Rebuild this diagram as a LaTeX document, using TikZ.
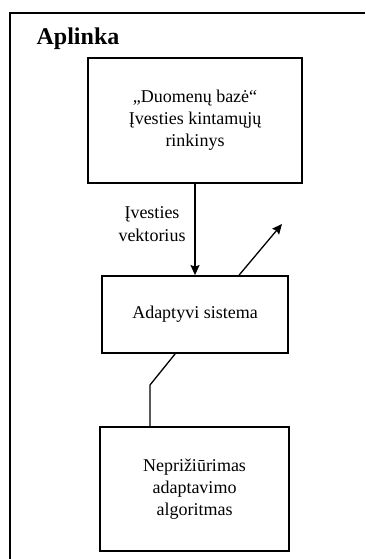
\documentclass[tikz,border=0pt]{standalone}
\usepackage{fontspec}
\setmainfont{Liberation Serif}
\usepackage{tikz}
\usetikzlibrary{arrows.meta}

\begin{document}
\begin{tikzpicture}[x=1pt,y=-1pt,
		blok/.style={draw,line width=1.8pt,align=center,inner sep=0pt,font=\fontsize{18}{22}\selectfont},
		ryssys/.style={line width=1.3pt},
		rod/.style={ryssys,-{Stealth[length=10pt,width=9pt,inset=1.5pt]}}]
		\def\lw{1.8pt}
		\useasboundingbox (0,0) rectangle (365,559);
		\draw [line width=\lw] (10,559) -- (10,13) -- (365,13);
		\node [font=\bfseries\fontsize{24}{28}\selectfont] (aplinka) at (78,39) {Aplinka};
		\node [blok,minimum width=214pt,minimum height=125pt] (baze) at (195,120.5)
			{„Duomenų bazė“\\Įvesties kintamųjų\\rinkinys};
		\node [blok,minimum width=186pt,minimum height=77pt] (sistema) at (195,314.5)
			{Adaptyvi sistema};
		\node [blok,minimum width=189pt,minimum height=124pt] (algoritmas) at (194.5,489)
			{Neprižiūrimas\\adaptavimo\\algoritmas};
		\node [align=center,font=\fontsize{18}{23}\selectfont] (vektorius) at (152,224) {Įvesties\\vektorius};
		\coordinate (isejimas) at (282,224);
		\coordinate (luzis) at (150,385);
		\draw [rod] (baze.south) -- (sistema.north);
		\draw [rod] ([xshift=138pt]sistema.north west) -- (isejimas);
		\draw [ryssys] ([xshift=74pt]sistema.south west) -- (luzis) -- (luzis |- algoritmas.north);
	\end{tikzpicture}
\end{document}
